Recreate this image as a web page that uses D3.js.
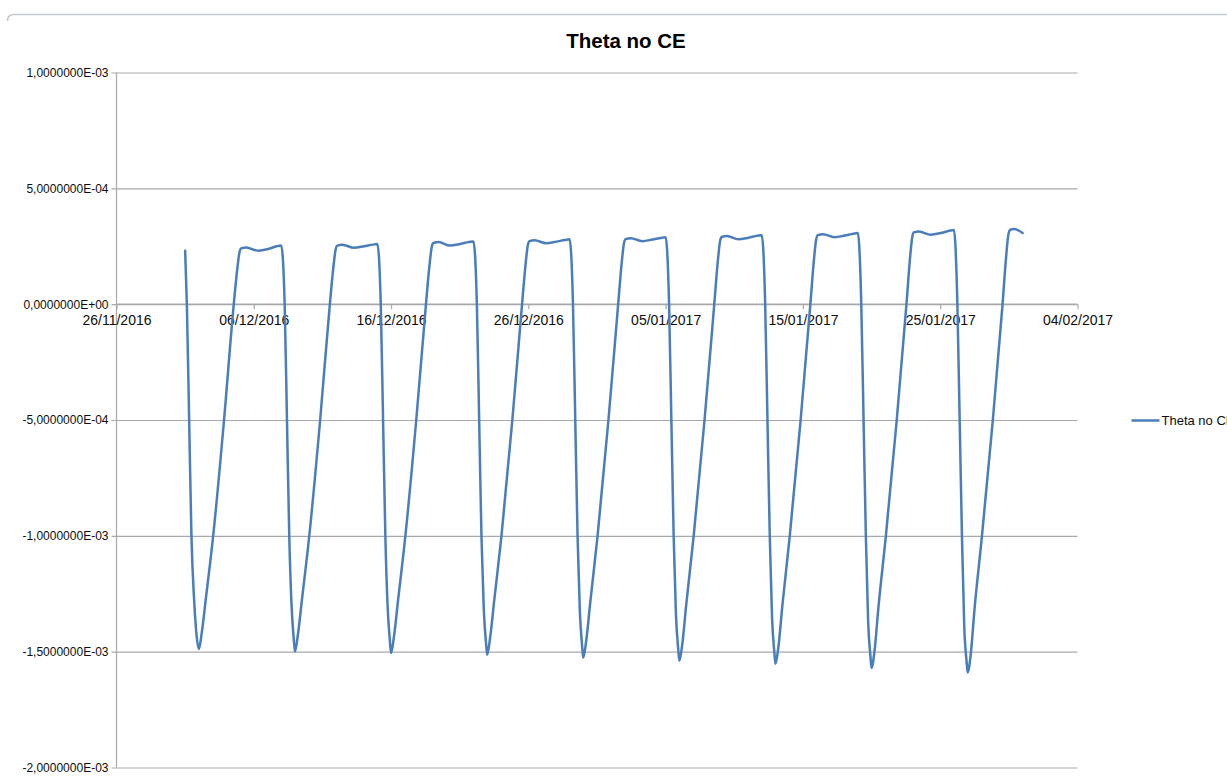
<!DOCTYPE html>
<html>
<head>
<meta charset="utf-8">
<script src="https://cdn.jsdelivr.net/npm/d3@7"></script>
<style>
  html, body { margin: 0; padding: 0; background: #fff; }
  svg { display: block; }
</style>
</head>
<body>
<svg id="chart" width="1227" height="776"></svg>
<script>
// Theta of the position, sampled through each trading week
const timestamps = [
  "2016-12-01T00:00", "2016-12-01T03:00", "2016-12-01T07:00", "2016-12-01T11:00", "2016-12-01T16:00", "2016-12-01T20:00", "2016-12-02T00:00",
  "2016-12-02T05:00", "2016-12-02T12:00", "2016-12-03T01:00", "2016-12-03T20:00", "2016-12-04T13:00", "2016-12-04T19:00", "2016-12-04T23:00",
  "2016-12-05T02:00", "2016-12-05T11:00", "2016-12-06T07:00", "2016-12-07T01:00", "2016-12-07T16:00", "2016-12-08T00:00",
  "2016-12-08T06:00", "2016-12-08T10:00", "2016-12-08T14:00", "2016-12-08T18:00", "2016-12-08T22:00", "2016-12-09T00:00",
  "2016-12-09T05:00", "2016-12-09T12:00", "2016-12-10T01:00", "2016-12-10T20:00", "2016-12-11T13:00", "2016-12-11T19:00", "2016-12-11T23:00",
  "2016-12-12T02:00", "2016-12-12T11:00", "2016-12-13T07:00", "2016-12-14T01:00", "2016-12-14T16:00", "2016-12-15T00:00",
  "2016-12-15T06:00", "2016-12-15T10:00", "2016-12-15T14:00", "2016-12-15T18:00", "2016-12-15T22:00", "2016-12-16T00:00",
  "2016-12-16T05:00", "2016-12-16T12:00", "2016-12-17T01:00", "2016-12-17T20:00", "2016-12-18T13:00", "2016-12-18T19:00", "2016-12-18T23:00",
  "2016-12-19T02:00", "2016-12-19T11:00", "2016-12-20T07:00", "2016-12-21T01:00", "2016-12-21T16:00", "2016-12-22T00:00",
  "2016-12-22T06:00", "2016-12-22T10:00", "2016-12-22T14:00", "2016-12-22T18:00", "2016-12-22T22:00", "2016-12-23T00:00",
  "2016-12-23T05:00", "2016-12-23T12:00", "2016-12-24T01:00", "2016-12-24T20:00", "2016-12-25T13:00", "2016-12-25T19:00", "2016-12-25T23:00",
  "2016-12-26T02:00", "2016-12-26T11:00", "2016-12-27T07:00", "2016-12-28T01:00", "2016-12-28T16:00", "2016-12-29T00:00",
  "2016-12-29T06:00", "2016-12-29T10:00", "2016-12-29T14:00", "2016-12-29T18:00", "2016-12-29T22:00", "2016-12-30T00:00",
  "2016-12-30T05:00", "2016-12-30T12:00", "2016-12-31T01:00", "2016-12-31T20:00", "2017-01-01T13:00", "2017-01-01T19:00", "2017-01-01T23:00",
  "2017-01-02T02:00", "2017-01-02T11:00", "2017-01-03T07:00", "2017-01-04T01:00", "2017-01-04T16:00", "2017-01-05T00:00",
  "2017-01-05T06:00", "2017-01-05T10:00", "2017-01-05T14:00", "2017-01-05T18:00", "2017-01-05T22:00", "2017-01-06T00:00",
  "2017-01-06T05:00", "2017-01-06T12:00", "2017-01-07T01:00", "2017-01-07T20:00", "2017-01-08T13:00", "2017-01-08T19:00", "2017-01-08T23:00",
  "2017-01-09T02:00", "2017-01-09T11:00", "2017-01-10T07:00", "2017-01-11T01:00", "2017-01-11T16:00", "2017-01-12T00:00",
  "2017-01-12T06:00", "2017-01-12T10:00", "2017-01-12T14:00", "2017-01-12T18:00", "2017-01-12T22:00", "2017-01-13T00:00",
  "2017-01-13T05:00", "2017-01-13T12:00", "2017-01-14T01:00", "2017-01-14T20:00", "2017-01-15T13:00", "2017-01-15T19:00", "2017-01-15T23:00",
  "2017-01-16T02:00", "2017-01-16T11:00", "2017-01-17T07:00", "2017-01-18T01:00", "2017-01-18T16:00", "2017-01-19T00:00",
  "2017-01-19T06:00", "2017-01-19T10:00", "2017-01-19T14:00", "2017-01-19T18:00", "2017-01-19T22:00", "2017-01-20T00:00",
  "2017-01-20T05:00", "2017-01-20T12:00", "2017-01-21T01:00", "2017-01-21T20:00", "2017-01-22T13:00", "2017-01-22T19:00", "2017-01-22T23:00",
  "2017-01-23T02:00", "2017-01-23T11:00", "2017-01-24T07:00", "2017-01-25T01:00", "2017-01-25T16:00", "2017-01-26T00:00",
  "2017-01-26T06:00", "2017-01-26T10:00", "2017-01-26T14:00", "2017-01-26T18:00", "2017-01-26T22:00", "2017-01-27T00:00",
  "2017-01-27T05:00", "2017-01-27T12:00", "2017-01-28T01:00", "2017-01-28T20:00", "2017-01-29T13:00", "2017-01-29T19:00", "2017-01-29T23:00",
  "2017-01-30T02:00", "2017-01-30T08:00", "2017-01-30T18:00", "2017-01-31T00:00"
];

const thetaNoCE = [
  2.31e-4, 0, -5.0e-4, -10.0e-4, -12.9e-4, -14.3e-4, -14.89e-4,
  -14.19e-4, -12.75e-4, -10.0e-4, -5.0e-4, 0, 1.49e-4, 2.24e-4,
  2.41e-4, 2.45e-4, 2.31e-4, 2.38e-4, 2.50e-4, 2.53e-4,
  0, -5.0e-4, -10.0e-4, -12.99e-4, -14.49e-4, -14.99e-4,
  -14.29e-4, -12.80e-4, -10.0e-4, -5.0e-4, 0, 1.57e-4, 2.35e-4,
  2.53e-4, 2.57e-4, 2.43e-4, 2.50e-4, 2.57e-4, 2.60e-4,
  0, -5.0e-4, -10.0e-4, -13.06e-4, -14.56e-4, -15.06e-4,
  -14.36e-4, -12.83e-4, -10.0e-4, -5.0e-4, 0, 1.64e-4, 2.46e-4,
  2.64e-4, 2.68e-4, 2.53e-4, 2.60e-4, 2.68e-4, 2.71e-4,
  0, -5.0e-4, -10.0e-4, -13.13e-4, -14.63e-4, -15.13e-4,
  -14.43e-4, -12.86e-4, -10.0e-4, -5.0e-4, 0, 1.69e-4, 2.53e-4,
  2.72e-4, 2.76e-4, 2.63e-4, 2.70e-4, 2.77e-4, 2.80e-4,
  0, -5.0e-4, -10.0e-4, -13.26e-4, -14.76e-4, -15.26e-4,
  -14.56e-4, -12.92e-4, -10.0e-4, -5.0e-4, 0, 1.74e-4, 2.61e-4,
  2.81e-4, 2.85e-4, 2.72e-4, 2.79e-4, 2.86e-4, 2.89e-4,
  0, -5.0e-4, -10.0e-4, -13.39e-4, -14.89e-4, -15.39e-4,
  -14.69e-4, -12.97e-4, -10.0e-4, -5.0e-4, 0, 1.80e-4, 2.70e-4,
  2.90e-4, 2.94e-4, 2.80e-4, 2.87e-4, 2.95e-4, 2.98e-4,
  0, -5.0e-4, -10.0e-4, -13.52e-4, -15.02e-4, -15.52e-4,
  -14.82e-4, -13.02e-4, -10.0e-4, -5.0e-4, 0, 1.85e-4, 2.77e-4,
  2.98e-4, 3.02e-4, 2.89e-4, 2.96e-4, 3.04e-4, 3.07e-4,
  0, -5.0e-4, -10.0e-4, -13.70e-4, -15.20e-4, -15.70e-4,
  -15.00e-4, -13.08e-4, -10.0e-4, -5.0e-4, 0, 1.92e-4, 2.88e-4,
  3.10e-4, 3.14e-4, 3.00e-4, 3.07e-4, 3.17e-4, 3.20e-4,
  0, -5.0e-4, -10.0e-4, -13.90e-4, -15.40e-4, -15.90e-4,
  -15.20e-4, -13.15e-4, -10.0e-4, -5.0e-4, 0, 1.98e-4, 2.98e-4,
  3.20e-4, 3.25e-4, 3.17e-4, 3.07e-4
];

const xDomain = ["2016-11-26", "2017-02-04"];
const xTickDates = ["2016-11-26", "2016-12-06", "2016-12-16", "2016-12-26", "2017-01-05", "2017-01-15", "2017-01-25", "2017-02-04"];
const yTicks = [1.0e-3, 5.0e-4, 0, -5.0e-4, -1.0e-3, -1.5e-3, -2.0e-3];
const yDomain = [-2.0e-3, 1.0e-3];

const chartTitle = "Theta no CE";
const seriesName = "Theta no CE";

const parseTime = d3.timeParse("%Y-%m-%dT%H:%M");
const parseDay = d3.timeParse("%Y-%m-%d");
const points = timestamps.map((t, i) => ({ t: parseTime(t), v: thetaNoCE[i] }));

const plot = { left: 116.5, right: 1077.5, top: 72.5, bottom: 767.5 };

const x = d3.scaleTime().domain(xDomain.map(parseDay)).range([plot.left, plot.right]);
const y = d3.scaleLinear().domain(yDomain).range([plot.bottom, plot.top]);

// Scientific labels with a decimal comma, e.g. "-5,0000000E-04"
function sciLabel(v) {
  const [mant, exp] = v.toExponential(7).split("e");
  const e = parseInt(exp, 10);
  const sign = e < 0 ? "-" : "+";
  return mant.replace(".", ",") + "E" + sign + String(Math.abs(e)).padStart(2, "0");
}

const svg = d3.select("#chart");
const gridColor = "#a9a9a9";
const textColor = "#0d0d0d";
const labelFont = "'Liberation Sans', Arial, sans-serif";

// chart frame edge along the top
svg.append("path")
  .attr("d", "M7.5,21 Q7.5,14.5 14,14.5 L1227,14.5")
  .attr("fill", "none")
  .attr("stroke", "#c3cbd2")
  .attr("stroke-width", 1.5);

// title
svg.append("text")
  .attr("x", 626)
  .attr("y", 48)
  .attr("text-anchor", "middle")
  .attr("font-family", labelFont)
  .attr("font-weight", "bold")
  .attr("font-size", 20.5)
  .attr("fill", "#000")
  .text(chartTitle);

// horizontal gridlines + y axis
const yAxis = d3.axisLeft(y)
  .tickValues(yTicks)
  .tickFormat(sciLabel)
  .tickSize(-(plot.right - plot.left))
  .tickPadding(8);

const gy = svg.append("g")
  .attr("transform", `translate(${plot.left},0)`)
  .call(yAxis);
gy.select(".domain").remove();
gy.selectAll(".tick line")
  .attr("x1", -5)
  .attr("stroke", gridColor)
  .attr("stroke-width", 1.2);
gy.selectAll(".tick text")
  .attr("font-family", labelFont)
  .attr("font-size", 12)
  .attr("fill", textColor)
  .attr("x", -8);

// vertical axis line
svg.append("line")
  .attr("x1", plot.left).attr("x2", plot.left)
  .attr("y1", plot.top).attr("y2", plot.bottom)
  .attr("stroke", gridColor)
  .attr("stroke-width", 1.2);

// date axis crossing at zero
const xAxis = d3.axisBottom(x)
  .tickValues(xTickDates.map(parseDay))
  .tickFormat(d3.timeFormat("%d/%m/%Y"))
  .tickSize(5)
  .tickPadding(6);

const gx = svg.append("g")
  .attr("transform", `translate(0,${y(0)})`)
  .call(xAxis);
gx.select(".domain")
  .attr("stroke", gridColor)
  .attr("stroke-width", 1.2)
  .attr("d", `M${plot.left},0H${plot.right}`);
gx.selectAll(".tick line")
  .attr("stroke", gridColor)
  .attr("stroke-width", 1.2);
gx.selectAll(".tick text")
  .attr("font-family", labelFont)
  .attr("font-size", 14)
  .attr("fill", textColor);

// series line
const line = d3.line()
  .x(d => x(d.t))
  .y(d => y(d.v))
  .curve(d3.curveMonotoneX);

svg.append("path")
  .datum(points)
  .attr("d", line)
  .attr("fill", "none")
  .attr("stroke", "#4a7ebb")
  .attr("stroke-width", 2.5)
  .attr("stroke-linejoin", "round")
  .attr("stroke-linecap", "round");

// legend
const legend = svg.append("g").attr("transform", "translate(1131.5,420.5)");
legend.append("line")
  .attr("x1", 0).attr("x2", 28)
  .attr("stroke", "#4a7ebb")
  .attr("stroke-width", 2.5);
legend.append("text")
  .attr("x", 30)
  .attr("y", 4.5)
  .attr("font-family", labelFont)
  .attr("font-size", 13)
  .attr("fill", textColor)
  .text(seriesName);
</script>
</body>
</html>
